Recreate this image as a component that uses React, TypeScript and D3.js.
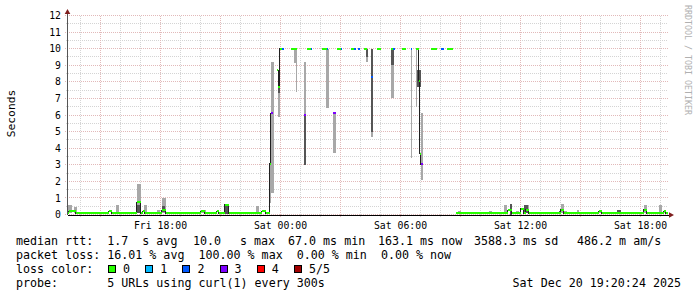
import React from 'react';
import * as d3 from 'd3';

// hours since Fri 00:00
const domainStart = 13.35;
const domainEnd = 43.35;

const yMajor = [0, 1, 2, 3, 4, 5, 6, 7, 8, 9, 10, 11, 12];
const yMinor = [0.5, 1.5, 2.5, 3.5, 4.5, 5.5, 6.5, 7.5, 8.5, 9.5, 10.5, 11.5];
const xMajor = [15, 18, 21, 24, 27, 30, 33, 36, 39, 42];
const xMinor = [14, 16, 17, 19, 20, 22, 23, 25, 26, 28, 29, 31, 32, 34, 35, 37, 38, 40, 41, 43];
const xLabelHours = [18, 24, 30, 36, 42];
const xLabelTexts = ['Fri 18:00', 'Sat 00:00', 'Sat 06:00', 'Sat 12:00', 'Sat 18:00'];

const lossColors = ['#26ff00', '#00b8ff', '#0059ff', '#7e00ff', '#ff0000', '#a10000'];
const lossLabels = ['0', '1', '2', '3', '4', '5/5'];

// smoke: [start, end, low, high]
const smokeLight: [number, number, number, number][] = [
  [13.35, 13.55, 0.08, 0.6],
  [13.65, 13.8, 0.08, 0.45],
  [14.9, 15.25, 0.08, 0.18],
  [15.75, 15.9, 0.08, 0.6],
  [16.8, 17.0, 0.08, 1.85],
  [17.15, 17.3, 0.08, 0.6],
  [17.4, 17.55, 0.08, 0.18],
  [17.8, 17.95, 0.08, 0.3],
  [18.05, 18.25, 0.08, 1.0],
  [20.0, 20.25, 0.08, 0.25],
  [22.75, 22.9, 0.08, 0.5],
  [23.45, 23.53, 0.7, 3.1],
  [23.53, 23.65, 1.3, 9.2],
  [23.875, 23.95, 5.9, 7.3],
  [24.65, 24.8, 9.15, 10],
  [24.75, 24.8, 7.4, 10],
  [25.15, 25.25, 3.0, 9.2],
  [26.25, 26.4, 6.4, 10],
  [26.6, 26.75, 3.7, 6.1],
  [28.25, 28.38, 9.2, 9.5],
  [28.53, 28.63, 4.7, 5.0],
  [29.5, 29.65, 7.0, 9.0],
  [30.5, 30.55, 3.4, 10],
  [30.75, 30.83, 6.5, 10],
  [31.0, 31.13, 2.1, 6.1],
  [32.85, 33.0, 0.08, 0.2],
  [34.4, 34.55, 0.08, 0.2],
  [35.15, 35.3, 0.08, 0.55],
  [35.75, 35.9, 0.08, 0.2],
  [36.25, 36.4, 0.08, 0.6],
  [38.0, 38.15, 0.08, 0.65],
  [38.15, 38.3, 0.08, 0.2],
  [38.6, 38.75, 0.08, 0.15],
  [38.8, 38.9, 0.08, 0.3],
  [39.15, 39.25, 0.08, 0.15],
  [39.4, 39.55, 0.08, 0.15],
  [39.9, 40.05, 0.08, 0.3],
  [42.15, 42.3, 0.08, 0.6],
  [42.9, 43.05, 0.08, 0.55],
  [43.15, 43.25, 0.08, 0.3],
];

const smokeDark: [number, number, number, number][] = [
  [15.75, 16.0, 0.08, 0.18],
  [16.8, 16.95, 0.12, 0.6],
  [18.05, 18.2, 0.15, 0.5],
  [21.2, 21.4, 0.05, 0.6],
  [23.875, 23.95, 7.3, 7.7],
  [25.15, 25.25, 3.0, 6.0],
  [28.25, 28.38, 9.5, 10],
  [28.53, 28.63, 5.0, 10],
  [29.5, 29.65, 9.0, 10],
  [30.83, 31.0, 7.7, 8.7],
  [35.45, 35.55, 0.0, 0.65],
  [36.15, 36.35, 0.08, 0.6],
  [37.9, 38.0, 0.08, 0.2],
  [40.8, 41.0, 0.08, 0.25],
];

// median steps: [start, value (null = 5/5 lost), loss count]; each runs to the next start
const medianSteps: [number, number | null, number][] = [
  [13.35, 0.08, 0], [13.4, 0.2, 0], [13.75, 0.08, 0], [15.4, 0.2, 0], [15.55, 0.08, 0],
  [16.8, 0.75, 0], [17.0, 0.08, 0], [17.1, 0.2, 0], [17.2, 0.08, 0], [18.05, 0.25, 0],
  [18.25, 0.08, 0], [20.0, 0.2, 0], [20.2, 0.08, 0], [20.8, 0.2, 0], [20.9, 0.08, 0],
  [21.2, 0.6, 0], [21.4, 0.08, 0], [23.05, 0.2, 0], [23.25, 0.08, 0],
  [23.45, 3.06, 0], [23.52, 6.1, 3], [23.6, null, 5],
  [23.8, 8.7, 0], [23.875, 7.7, 0], [23.95, 10, 0], [24.05, 10, 2], [24.15, null, 5],
  [24.5, 10, 0], [24.8, null, 5],
  [25.15, 6.0, 3], [25.25, null, 5], [25.3, 10, 0], [25.5, 10, 2], [25.55, null, 5],
  [26.05, 10, 0], [26.3, 10, 2], [26.35, null, 5],
  [26.6, 6.1, 3], [26.75, null, 5], [26.8, 10, 0], [27.0, 10, 2], [27.08, null, 5],
  [27.5, 10, 0], [27.67, 10, 2], [27.75, null, 5], [27.87, 10, 2], [27.97, null, 5],
  [28.17, 10, 0], [28.3, null, 5], [28.53, 8.3, 2], [28.63, null, 5],
  [28.8, 10, 0], [29.0, null, 5], [29.5, 10, 0], [29.63, 10, 2], [29.72, null, 5],
  [30.05, 10, 0], [30.28, null, 5], [30.5, 10, 2], [30.55, null, 5],
  [30.75, 10, 0], [30.9, 8.06, 0], [30.97, 3.66, 0], [31.02, 3.04, 3], [31.1, null, 5],
  [31.5, 10, 0], [31.8, null, 5], [32.0, 10, 2], [32.15, null, 5], [32.3, 10, 0], [32.6, null, 5],
  [32.75, 0.08, 0], [35.35, 0.25, 0], [35.55, 0.08, 0], [36.0, 0.35, 0], [36.15, 0.08, 0],
  [36.25, 0.3, 0], [36.4, 0.08, 0], [38.0, 0.3, 0], [38.15, 0.08, 0], [39.9, 0.2, 0],
  [40.05, 0.08, 0], [42.15, 0.3, 0], [42.3, 0.08, 0], [43.15, 0.2, 0], [43.25, 0.08, 0],
];

// legend items: [text, x]
const legendRow1: [string, number][] = [
  ['median rtt:  1.7  s avg', 16],
  ['10.0', 193],
  ['s max', 240],
  ['67.0 ms min', 288],
  ['163.1 ms now', 378],
  ['3588.3 ms sd', 474],
  ['486.2 m am/s', 577],
];
const legendRow2 = 'packet loss: 16.01 % avg  100.00 % max  0.00 % min  0.00 % now';
const legendRow3 = 'loss color:';
const legendRow4 = 'probe:       5 URLs using curl(1) every 300s';
const dateText = 'Sat Dec 20 19:20:24 2025';

const MONO = '"DejaVu Sans Mono", monospace';

export default function App() {
  const W = 697, H = 297;
  const x = d3.scaleLinear().domain([domainStart, domainEnd]).range([67.5, 667.5]);
  const y = d3.scaleLinear().domain([0, 12]).range([214.5, 15.5]);
  const left = 67.5, right = 667.5, top = 15.5, bottom = 214.5;

  const pts: { t: number; v: number | null }[] = [];
  medianSteps.forEach((s, i) => {
    const t1 = i < medianSteps.length - 1 ? medianSteps[i + 1][0] : domainEnd;
    pts.push({ t: s[0], v: s[1] });
    pts.push({ t: t1, v: s[1] });
  });
  const line = d3
    .line<{ t: number; v: number | null }>()
    .defined((d) => d.v !== null)
    .x((d) => x(d.t))
    .y((d) => y(d.v as number));

  const legX = 16;
  const rowY = [245.3, 259.1, 272.9, 286.7];

  return (
    <svg width={W} height={H} style={{ display: 'block', position: 'absolute', left: 0, top: 0 }}>
      <rect x={0} y={0} width={W} height={H} fill="#ffffff" />
      {/* grid */}
      <g shapeRendering="crispEdges">
        {yMinor.map((v) => (
          <line key={'ym' + v} x1={left - 2} x2={right} y1={y(v)} y2={y(v)} stroke="#d4d4d4" strokeDasharray="1,1" />
        ))}
        {xMinor.map((h) => (
          <line key={'xm' + h} x1={x(h)} x2={x(h)} y1={top} y2={bottom + 2} stroke="#d4d4d4" strokeDasharray="1,1" />
        ))}
        {yMajor.map((v) => (
          <line key={'yM' + v} x1={left - 3} x2={right} y1={y(v)} y2={y(v)} stroke="#e2b9b9" strokeDasharray="1,1" />
        ))}
        {xMajor.map((h) => (
          <line key={'xM' + h} x1={x(h)} x2={x(h)} y1={top} y2={bottom + 3} stroke="#e2b9b9" strokeDasharray="1,1" />
        ))}
      </g>
      {/* smoke */}
      <g shapeRendering="crispEdges">
        {smokeLight.map((s, i) => (
          <rect key={'sl' + i} x={x(s[0])} width={x(s[1]) - x(s[0])} y={y(s[3])} height={y(s[2]) - y(s[3])} fill="#a8a8a8" />
        ))}
        {smokeDark.map((s, i) => (
          <rect key={'sd' + i} x={x(s[0])} width={x(s[1]) - x(s[0])} y={y(s[3])} height={y(s[2]) - y(s[3])} fill="#555555" />
        ))}
      </g>
      {/* median */}
      <path d={line(pts) || ''} fill="none" stroke="#202020" strokeWidth={1} shapeRendering="crispEdges" />
      <g shapeRendering="crispEdges">
        {medianSteps.map((s, i) => {
          if (s[1] === null) return null;
          const t1 = i < medianSteps.length - 1 ? medianSteps[i + 1][0] : domainEnd;
          return (
            <line key={'md' + i} x1={x(s[0])} x2={x(t1)} y1={y(s[1])} y2={y(s[1])} stroke={lossColors[s[2]]} strokeWidth={2} />
          );
        })}
      </g>
      {/* axes */}
      <g shapeRendering="crispEdges">
        <line x1={left} x2={left} y1={13} y2={bottom} stroke="#555555" />
        <line x1={left} x2={670} y1={bottom + 0.5} y2={bottom + 0.5} stroke="#000000" />
      </g>
      <path d={`M${left},9 L${left + 2.8},14 L${left - 2.8},14 Z`} fill="#7f1f1f" />
      <path d={`M674,${bottom + 0.5} L669,${bottom - 2.3} L669,${bottom + 3.3} Z`} fill="#7f1f1f" />
      {/* axis labels */}
      <g fontFamily={MONO} fontSize={9.8} fill="#000">
        {yMajor.map((v) => (
          <text key={'yl' + v} x={61} y={y(v) + 3.6} textAnchor="end">{v}</text>
        ))}
        {xLabelHours.map((h, i) => (
          <text key={'xl' + h} x={x(h)} y={228.5} textAnchor="middle">{xLabelTexts[i]}</text>
        ))}
      </g>
      <text transform="translate(15,113.5) rotate(-90)" fontFamily={MONO} fontSize={11.3} textAnchor="middle" fill="#000">Seconds</text>
      <text transform="translate(684.5,5) rotate(90)" fontFamily={MONO} fontSize={8.3} fill="#b0b0b0">RRDTOOL / TOBI OETIKER</text>
      {/* legend */}
      <g fontFamily={MONO} fontSize={11.67} fill="#000" style={{ whiteSpace: 'pre' }}>
        {legendRow1.map(([t, lx], i) => (
          <text key={'r1' + i} x={lx} y={rowY[0]} xmlSpace="preserve">{t}</text>
        ))}
        <text x={legX} y={rowY[1]} xmlSpace="preserve">{legendRow2}</text>
        <text x={legX} y={rowY[2]} xmlSpace="preserve">{legendRow3}</text>
        <text x={legX} y={rowY[3]} xmlSpace="preserve">{legendRow4}</text>
        <text x={681} y={rowY[3]} textAnchor="end">{dateText}</text>
        {lossColors.map((c, i) => (
          <g key={'lc' + i}>
            <rect x={108.5 + i * 37.2} y={265.5} width={7} height={7} fill={c} stroke="#000" shapeRendering="crispEdges" />
            <text x={123 + i * 37.2} y={rowY[2]}>{lossLabels[i]}</text>
          </g>
        ))}
      </g>
    </svg>
  );
}
